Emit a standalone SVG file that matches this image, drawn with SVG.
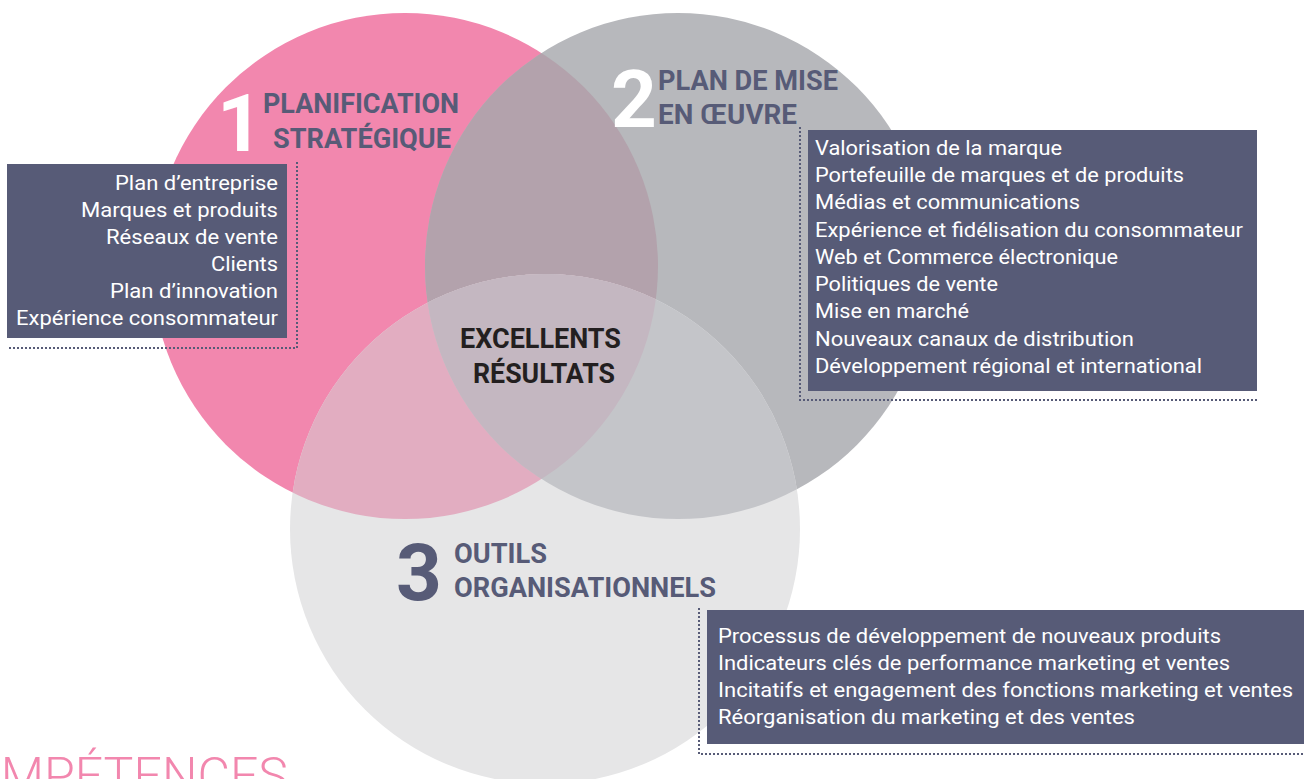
<svg xmlns="http://www.w3.org/2000/svg" width="1304" height="779" viewBox="0 0 1304 779">
<style>
.box{fill:#575B77}
.item{font-family:Roboto,"Liberation Sans",sans-serif;font-size:21px;fill:#FFFFFF}
.head{font-family:Roboto,"Liberation Sans",sans-serif;font-size:27px;font-weight:700;fill:#575B77}
.num{font-family:Roboto,"Liberation Sans",sans-serif;font-size:80px;font-weight:700;text-anchor:middle}
.dot{fill:none;stroke:#575B77;stroke-width:2;stroke-dasharray:2 2}
.center{font-family:Roboto,"Liberation Sans",sans-serif;font-size:27px;font-weight:700;fill:#231F20}
</style>
<defs>
<clipPath id="cpPink"><circle cx="405" cy="266" r="253"/></clipPath>
<clipPath id="cpGray"><circle cx="678" cy="266" r="253"/></clipPath>
</defs>
<rect width="1304" height="779" fill="#FFFFFF"/>
<g id="circles">
<circle cx="405" cy="266" r="253" fill="#F287AE"/>
<circle cx="678" cy="266" r="253" fill="#B7B8BC"/>
<circle cx="678" cy="266" r="253" fill="#B3A2AC" clip-path="url(#cpPink)"/>
<circle cx="545" cy="529" r="255" fill="#E6E6E7"/>
<circle cx="545" cy="529" r="255" fill="#E2ADC1" clip-path="url(#cpPink)"/>
<circle cx="545" cy="529" r="255" fill="#C4C5C9" clip-path="url(#cpGray)"/>
<g clip-path="url(#cpPink)"><circle cx="545" cy="529" r="255" fill="#C4B7C1" clip-path="url(#cpGray)"/></g>
</g>
<g id="connectors">
<polyline class="dot" points="297,162 297,348 7,348"/>
<polyline class="dot" points="800,127 800,400 1258,400"/>
<polyline class="dot" points="699,608 699,754 1304,754"/>
</g>
<g id="node-1">
<text class="num" x="240" y="151" fill="#FFFFFF">1</text>
<text class="head" x="263" y="113" textLength="196" lengthAdjust="spacingAndGlyphs">PLANIFICATION</text>
<text class="head" x="273" y="148" textLength="178" lengthAdjust="spacingAndGlyphs">STRATÉGIQUE</text>
<rect class="box" x="7" y="164" width="280" height="174"/>
<g text-anchor="end">
<text class="item" x="278" y="190" textLength="163" lengthAdjust="spacingAndGlyphs">Plan d’entreprise</text>
<text class="item" x="278" y="217" textLength="197" lengthAdjust="spacingAndGlyphs">Marques et produits</text>
<text class="item" x="278" y="244" textLength="172" lengthAdjust="spacingAndGlyphs">Réseaux de vente</text>
<text class="item" x="278" y="271" textLength="67" lengthAdjust="spacingAndGlyphs">Clients</text>
<text class="item" x="278" y="298" textLength="168" lengthAdjust="spacingAndGlyphs">Plan d’innovation</text>
<text class="item" x="278" y="325" textLength="262" lengthAdjust="spacingAndGlyphs">Expérience consommateur</text>
</g>
</g>
<g id="node-2">
<text class="num" x="634" y="127" fill="#FFFFFF">2</text>
<text class="head" x="658" y="90" textLength="180" lengthAdjust="spacingAndGlyphs">PLAN DE MISE</text>
<text class="head" x="658" y="124" textLength="139" lengthAdjust="spacingAndGlyphs">EN ŒUVRE</text>
<rect class="box" x="808" y="130" width="449" height="261"/>
<text class="item" x="815" y="155" textLength="247" lengthAdjust="spacingAndGlyphs">Valorisation de la marque</text>
<text class="item" x="815" y="182" textLength="369" lengthAdjust="spacingAndGlyphs">Portefeuille de marques et de produits</text>
<text class="item" x="815" y="209" textLength="265" lengthAdjust="spacingAndGlyphs">Médias et communications</text>
<text class="item" x="815" y="237" textLength="428" lengthAdjust="spacingAndGlyphs">Expérience et fidélisation du consommateur</text>
<text class="item" x="815" y="264" textLength="303" lengthAdjust="spacingAndGlyphs">Web et Commerce électronique</text>
<text class="item" x="815" y="291" textLength="183" lengthAdjust="spacingAndGlyphs">Politiques de vente</text>
<text class="item" x="815" y="318" textLength="154" lengthAdjust="spacingAndGlyphs">Mise en marché</text>
<text class="item" x="815" y="346" textLength="319" lengthAdjust="spacingAndGlyphs">Nouveaux canaux de distribution</text>
<text class="item" x="815" y="373" textLength="387" lengthAdjust="spacingAndGlyphs">Développement régional et international</text>
</g>
<g id="node-3">
<text class="num" x="419" y="600" fill="#575B77">3</text>
<text class="head" x="454" y="563" textLength="93" lengthAdjust="spacingAndGlyphs">OUTILS</text>
<text class="head" x="454" y="597" textLength="262" lengthAdjust="spacingAndGlyphs">ORGANISATIONNELS</text>
<rect class="box" x="707" y="610" width="597" height="134"/>
<text class="item" x="718" y="643" textLength="503" lengthAdjust="spacingAndGlyphs">Processus de développement de nouveaux produits</text>
<text class="item" x="718" y="670" textLength="512" lengthAdjust="spacingAndGlyphs">Indicateurs clés de performance marketing et ventes</text>
<text class="item" x="718" y="697" textLength="575" lengthAdjust="spacingAndGlyphs">Incitatifs et engagement des fonctions marketing et ventes</text>
<text class="item" x="718" y="724" textLength="417" lengthAdjust="spacingAndGlyphs">Réorganisation du marketing et des ventes</text>
</g>
<g id="center">
<text class="center" x="460" y="348" textLength="161" lengthAdjust="spacingAndGlyphs">EXCELLENTS</text>
<text class="center" x="473" y="383" textLength="142" lengthAdjust="spacingAndGlyphs">RÉSULTATS</text>
</g>
<g id="footer">
<text x="288" y="793" text-anchor="end" font-family="Roboto, 'Liberation Sans', sans-serif" font-size="50" font-weight="300" fill="#F287AE">MPÉTENCES</text>
</g>
</svg>
